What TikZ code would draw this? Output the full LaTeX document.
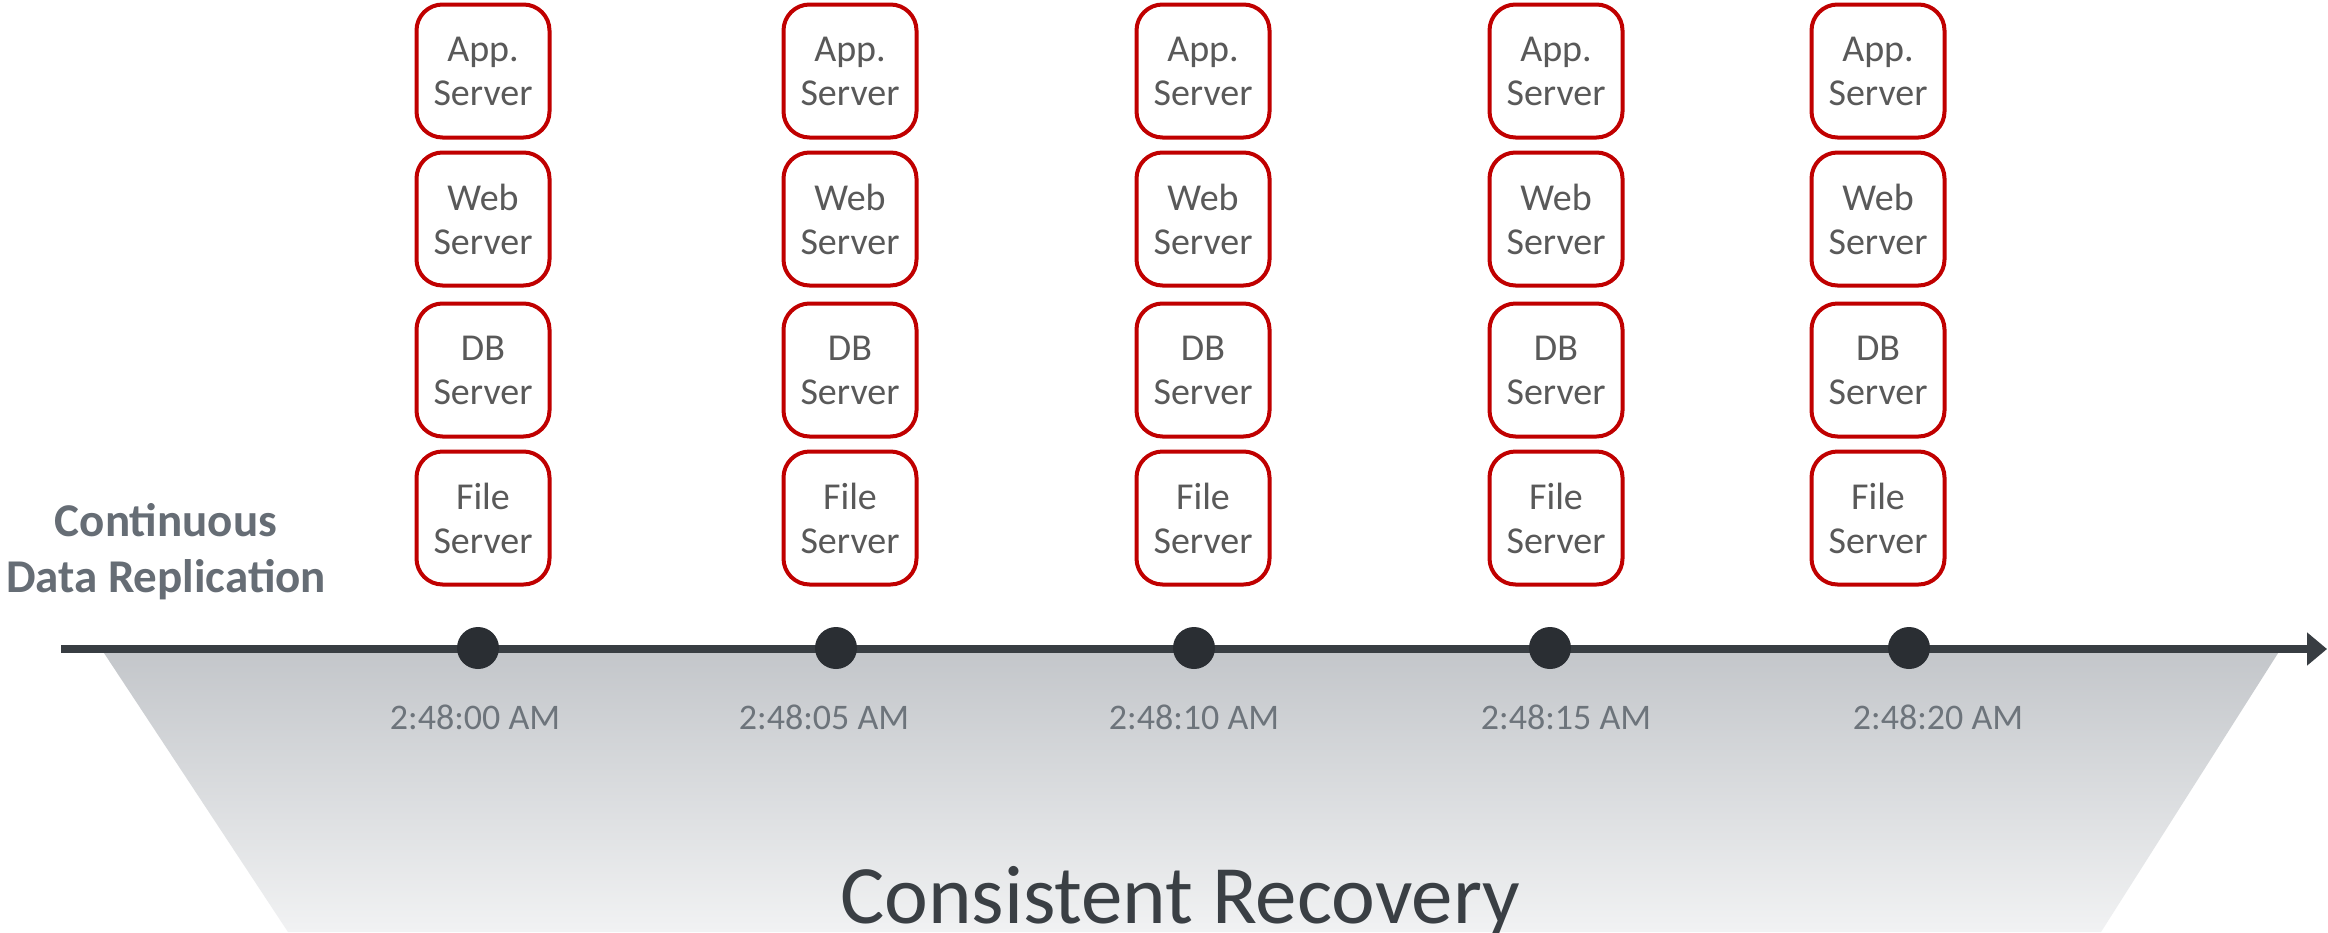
\documentclass[tikz,border=0pt]{standalone}
\usepackage{fontspec}
\setmainfont{Carlito}
\usetikzlibrary{arrows.meta}
\definecolor{boxred}{HTML}{C00000}
\definecolor{srvtext}{HTML}{595959}
\definecolor{linec}{HTML}{383D42}
\definecolor{dotc}{HTML}{2A2E33}
\definecolor{timec}{HTML}{6D747B}
\definecolor{lblc}{HTML}{666D75}
\definecolor{shtop}{HTML}{C3C6CA}
\definecolor{shbot}{HTML}{F1F2F3}
\definecolor{recc}{HTML}{3A3F44}
\begin{document}
\begin{tikzpicture}[x=0.5pt,y=-0.5pt,
  srv/.style={draw=boxred, line width=2pt, rounded corners=13pt,
    minimum width=66.5pt, minimum height=66.5pt, inner sep=0pt,
    align=center, text=srvtext, font=\fontsize{19}{22}\selectfont},
  tdot/.style={circle, fill=dotc, minimum size=21pt, inner sep=0pt},
  tlabel/.style={anchor=base, text=timec, font=\fontsize{18}{21}\selectfont},
]
\useasboundingbox (0,0) rectangle (2328,932);
\fill[white] (0,0) rectangle (2328,932);
% shaded trapezoid
\shade[top color=shtop, bottom color=shbot] (102,650) -- (2280,650) -- (2101,932) -- (288,932) -- cycle;
% servers
\foreach \i/\x in {1/483,2/850,3/1203,4/1556,5/1878}{
  \node[srv] (app\i) at (\x,71) {App.\\Server};
  \node[srv] (web\i) at (\x,219) {Web\\Server};
  \node[srv] (db\i) at (\x,370) {DB\\Server};
  \node[srv] (file\i) at (\x,518) {File\\Server};
}
% timeline
\coordinate (tstart) at (61,649);
\coordinate (tend) at (2327,649);
\draw[line width=4pt, draw=linec, -{Triangle[length=10pt,width=16pt]}] (tstart) -- (tend);
\foreach \i/\x in {1/478,2/836,3/1194,4/1550,5/1909}{
  \node[tdot] (dot\i) at (\x,648) {};
}
\node[tlabel] (t1) at (475,729) {2:48:00 AM};
\node[tlabel] (t2) at (824,729) {2:48:05 AM};
\node[tlabel] (t3) at (1194,729) {2:48:10 AM};
\node[tlabel] (t4) at (1566,729) {2:48:15 AM};
\node[tlabel] (t5) at (1938,729) {2:48:20 AM};
% left label
\node[anchor=base, align=center, text=lblc, font=\bfseries\fontsize{23.5}{28}\selectfont] (cdr) at (166,592) {Continuous\\Data Replication};
% bottom label
\node[anchor=base, text=recc, font=\fontsize{41.5}{48}\selectfont] (rec) at (1180,923) {Consistent Recovery};
\end{tikzpicture}
\end{document}
